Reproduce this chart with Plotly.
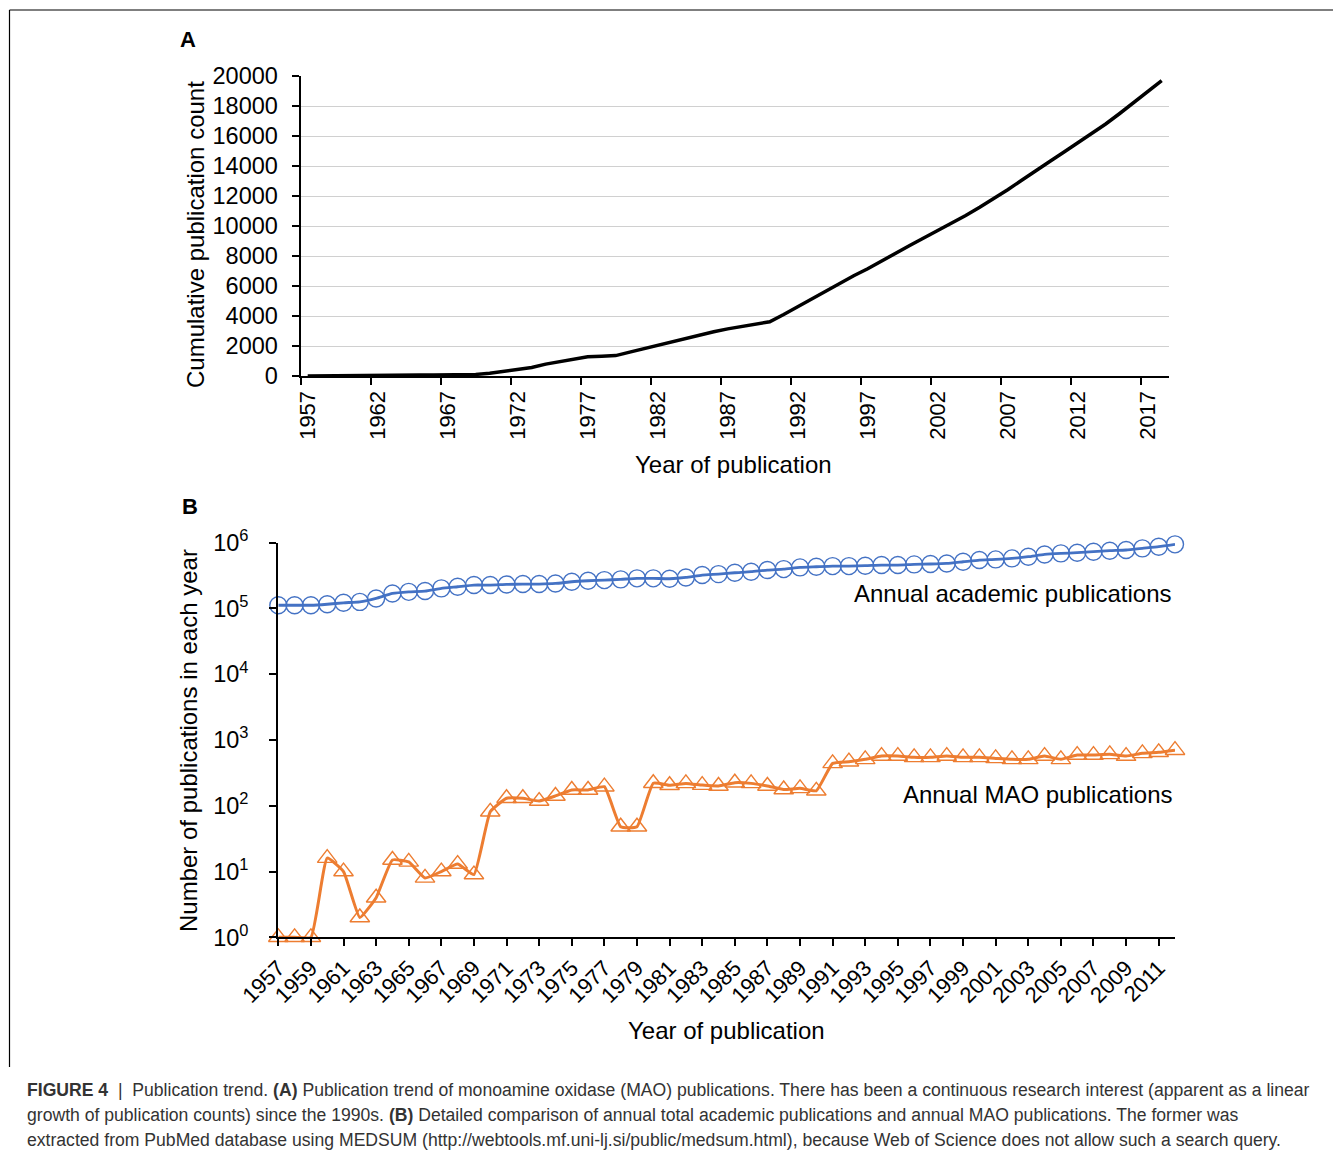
import plotly.graph_objects as go

# page has an 8px body margin, so the figure is made 16px smaller and all
# reference pixel positions are shifted by the margin
PAGE_W, PAGE_H = 1341, 1161
OFF = 8
W, H = PAGE_W - 2 * OFF, PAGE_H - 2 * OFF

# ---------------- Data ----------------
years_a = list(range(1957, 2019))
cumulative_mao = [
    1, 2, 3, 19, 29, 31, 35, 50, 64, 72,
    82, 95, 104, 185, 315, 445, 563, 790, 950, 1110,
    1280, 1320, 1360, 1590, 1820, 2067, 2290, 2500, 2720, 2950,
    3140, 3310, 3470, 3620, 4100, 4620, 5150, 5680, 6200, 6680,
    7150, 7680, 8200, 8700, 9200, 9700, 10180, 10700, 11250, 11820,
    12420, 13050, 13700, 14300, 14920, 15550, 16150, 16800, 17500, 18220,
    18950, 19690,
]

years_b = list(range(1957, 2013))
annual_academic = [
    112000, 112000, 112000, 116000, 122000, 126000, 142000, 169000, 179000, 184000,
    202000, 214000, 227000, 227000, 232000, 235000, 235000, 240000, 255000, 264000,
    270000, 277000, 287000, 287000, 283000, 296000, 322000, 333000, 349000, 362000,
    384000, 397000, 421000, 431000, 441000, 441000, 447000, 457000, 457000, 468000,
    474000, 484000, 513000, 545000, 557000, 577000, 612000, 663000, 688000, 704000,
    730000, 756000, 774000, 820000, 869000, 944000,
]
annual_mao = [
    1, 1, 1, 16, 10, 2, 4, 15, 14, 8,
    10, 13, 9, 81, 130, 130, 118, 141, 174, 174,
    195, 48, 48, 220, 205, 219, 206, 200, 224, 219,
    200, 177, 184, 169, 441, 468, 508, 570, 570, 545,
    545, 570, 545, 545, 525, 508, 508, 570, 508, 590,
    590, 605, 570, 627, 650, 700,
]

ya_ticks = [0, 2000, 4000, 6000, 8000, 10000, 12000, 14000, 16000, 18000, 20000]
xa_labels = [1957, 1962, 1967, 1972, 1977, 1982, 1987, 1992, 1997, 2002, 2007, 2012, 2017]
xb_labels = list(range(1957, 2012, 2))
yb_ticks = [1, 10, 100, 1000, 10000, 100000, 1000000]
yb_text = ["10<sup>0</sup>", "10<sup>1</sup>", "10<sup>2</sup>", "10<sup>3</sup>",
           "10<sup>4</sup>", "10<sup>5</sup>", "10<sup>6</sup>"]

# ---------------- helpers ----------------
def px(x):
    return (x - OFF) / W

def py(y):
    return 1 - (y - OFF) / H

FONT = "Liberation Sans, Arial, sans-serif"
BLUE = "#4472C4"
ORANGE = "#ED7D31"

fig = go.Figure()

# Panel A
fig.add_trace(go.Scatter(
    x=years_a, y=cumulative_mao, mode="lines",
    line=dict(color="black", width=3.5),
    xaxis="x", yaxis="y", showlegend=False,
))

# Panel B
fig.add_trace(go.Scatter(
    x=years_b, y=annual_academic, mode="lines+markers",
    line=dict(color=BLUE, width=2.8, shape="spline", smoothing=0.5),
    marker=dict(symbol="circle-open", size=17, color=BLUE, line=dict(width=1.4, color=BLUE)),
    xaxis="x2", yaxis="y2", showlegend=False, cliponaxis=False,
))
fig.add_trace(go.Scatter(
    x=years_b, y=annual_mao, mode="lines+markers",
    line=dict(color=ORANGE, width=3, shape="spline", smoothing=0.4),
    marker=dict(symbol="triangle-up-open", size=17, color=ORANGE, line=dict(width=1.4, color=ORANGE)),
    xaxis="x2", yaxis="y2", showlegend=False, cliponaxis=False,
))

axis_common = dict(
    showline=True, linecolor="black", linewidth=2.2, mirror=False,
    tickfont=dict(family=FONT, size=22, color="black"),
    tickcolor="black", tickwidth=2, ticklen=7, zeroline=False, automargin=False,
)

fig.update_layout(
    template="none",
    width=W, height=H,
    autosize=False,
    margin=dict(l=0, r=0, t=0, b=0, pad=0, autoexpand=False),
    paper_bgcolor="white", plot_bgcolor="white",
    font=dict(family=FONT, color="black"),
    showlegend=False,
    xaxis=dict(
        domain=[px(300.7), px(1168.7)],
        range=[1956.5, 2018.5],
        anchor="y",
        tickmode="array",
        tickvals=xa_labels, ticktext=[str(v) for v in xa_labels],
        ticks="", tickangle=-90, showgrid=False, ticklabelstandoff=4,
        minor=dict(tick0=1956.5, dtick=5, ticks="outside", ticklen=7, tickcolor="black", tickwidth=2, showgrid=False),
        **{k: v for k, v in axis_common.items() if k not in ("ticklen", "tickcolor", "tickwidth")},
    ),
    yaxis=dict(
        domain=[py(376), py(76)],
        range=[0, 20000], anchor="x",
        tickmode="array",
        tickvals=ya_ticks, ticktext=[str(v) for v in ya_ticks], ticks="outside",
        showgrid=True, gridcolor="#d0d0d0", gridwidth=1.3, ticklabelstandoff=9,
        **{**axis_common, "tickfont": dict(family=FONT, size=23.5, color="black")},
    ),
    xaxis2=dict(
        domain=[px(278.3), px(1175)],
        range=[1957, 2012], anchor="y2",
        tickmode="array",
        tickvals=xb_labels, ticktext=[str(v) for v in xb_labels],
        ticks="outside", tickangle=-45, showgrid=False,
        **axis_common,
    ),
    yaxis2=dict(
        domain=[py(937.3), py(542.7)],
        type="log", range=[0, 6], anchor="x2",
        tickmode="array",
        tickvals=yb_ticks, ticktext=yb_text, ticks="outside", showgrid=False,
        ticklabelstandoff=16,
        **{**axis_common, "tickfont": dict(family=FONT, size=23.5, color="black")},
    ),
)

ann = []
def add_text(text, x, y, size, xanchor="center", yanchor="middle", angle=0, color="black"):
    ann.append(dict(text=text, x=px(x), y=py(y), xref="paper", yref="paper",
                    xanchor=xanchor, yanchor=yanchor, showarrow=False, textangle=angle,
                    font=dict(family=FONT, size=size, color=color)))

add_text("<b>A</b>", 188, 40, 22)
add_text("<b>B</b>", 190, 506, 22)
add_text("Cumulative publication count", 195, 235, 24, angle=-90)
add_text("Year of publication", 733, 464, 24)
add_text("Number of publications in each year", 188, 741, 24, angle=-90)
add_text("Year of publication", 726, 1030, 24)
add_text("Annual academic publications", 1174, 593, 24, xanchor="right")
add_text("Annual MAO publications", 1174, 794, 24, xanchor="right")

CAP = "#333333"
cap_lines = [
    "<b>FIGURE 4</b>  |  Publication trend. <b>(A)</b> Publication trend of monoamine oxidase (MAO) publications. There has been a continuous research interest (apparent as a linear",
    "growth of publication counts) since the 1990s. <b>(B)</b> Detailed comparison of annual total academic publications and annual MAO publications. The former was",
    "extracted from PubMed database using MEDSUM (http://webtools.mf.uni-lj.si/public/medsum.html), because Web of Science does not allow such a search query.",
]
for i, t in enumerate(cap_lines):
    add_text(t, 25, 1090 + 25 * i, 17.6, xanchor="left", color=CAP)

fig.update_layout(annotations=ann)

# figure frame (top and left edges)
fig.add_shape(type="line", xref="paper", yref="paper", x0=px(9.5), x1=1, y0=py(10), y1=py(10),
              line=dict(color="black", width=1.2))
fig.add_shape(type="line", xref="paper", yref="paper", x0=px(9.5), x1=px(9.5), y0=py(10), y1=py(1067),
              line=dict(color="black", width=1.2))

fig.write_html("out.html")
